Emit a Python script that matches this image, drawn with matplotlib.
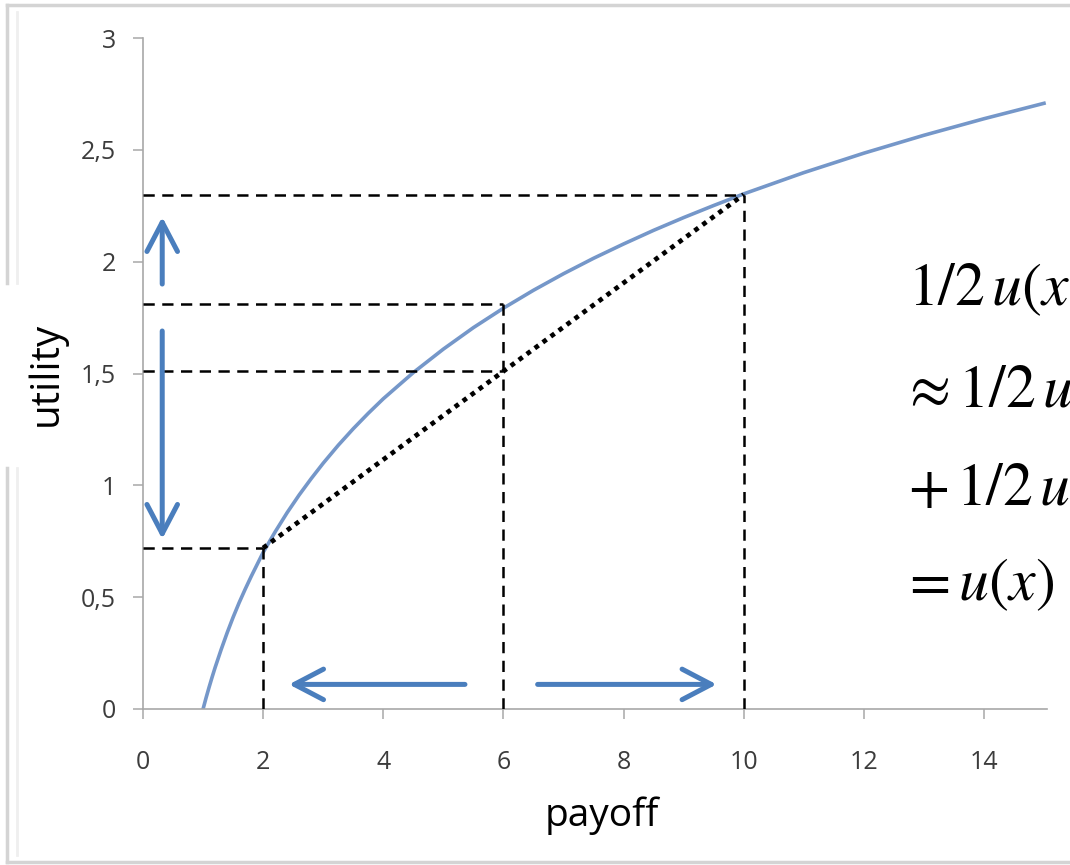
import matplotlib
matplotlib.use("Agg")
import matplotlib.pyplot as plt
from matplotlib.lines import Line2D

# curve
payoff = [1.0, 1.05, 1.1, 1.15, 1.2, 1.3, 1.4, 1.5, 1.6, 1.7, 1.8, 1.9, 2.0,
          2.2, 2.4, 2.6, 2.8, 3.0, 3.25, 3.5, 3.75, 4.0, 4.5, 5.0, 5.5, 6.0,
          6.5, 7.0, 7.5, 8.0, 8.5, 9.0, 9.5, 10.0, 11.0, 12.0, 13.0, 14.0, 15.0]
utility = [0.0, 0.050, 0.097, 0.142, 0.185, 0.265, 0.340, 0.410, 0.475, 0.535, 0.592, 0.646, 0.700,
           0.792, 0.878, 0.957, 1.030, 1.099, 1.179, 1.253, 1.322, 1.387, 1.504, 1.609, 1.705, 1.792,
           1.872, 1.946, 2.015, 2.079, 2.140, 2.197, 2.251, 2.303, 2.398, 2.485, 2.565, 2.639, 2.708]

# lottery points
x_low, x_mid, x_high = 2, 6, 10
u_low, u_mid, u_high = 0.72, 1.81, 2.30
u_avg = 1.51

x_ticks = [0, 2, 4, 6, 8, 10, 12, 14]
y_ticks = [0, 0.5, 1, 1.5, 2, 2.5, 3]
y_tick_labels = ["0", "0,5", "1", "1,5", "2", "2,5", "3"]

# blue arrows: (x0, y0) -> (x1, y1)
arrows = [
    ((0.32, 1.90), (0.32, 2.20)),
    ((0.32, 1.69), (0.32, 0.76)),
    ((5.36, 0.11), (2.43, 0.11)),
    ((6.57, 0.11), (9.55, 0.11)),
]

formula_lines = [r"$1/2\,u(x$", r"$\!\approx 1/2\,u$", r"$+\,1/2\,u$", r"$\!= u(x)$"]
formula_baselines = [305, 407, 505, 600]

W, H = 1070, 865
plt.rcParams["font.family"] = ["Open Sans", "DejaVu Sans"]
plt.rcParams["mathtext.fontset"] = "stix"

fig = plt.figure(figsize=(W / 100, H / 100), dpi=100)


def fx(px):
    return px / W


def fy(py):
    return 1 - py / H


ax = fig.add_axes([fx(143), fy(709), (1047 - 143) / W, (709 - 38) / H])
ax.set_xlim(0, 15.05)
ax.set_ylim(0, 3)

curve_col = "#7597c9"
arrow_col = "#4a7ebd"
axis_col = "#a8a8a8"

ax.plot(payoff, utility, color=curve_col, lw=2.6, solid_joinstyle="round", zorder=2)

dash = dict(color="black", lw=1.8, linestyle=(0, (4.5, 3)), zorder=3)
ax.plot([0, x_high], [u_high, u_high], **dash)
ax.plot([0, x_mid], [u_mid, u_mid], **dash)
ax.plot([0, x_mid], [u_avg, u_avg], **dash)
ax.plot([0, x_low], [u_low, u_low], **dash)
ax.plot([x_low, x_low], [0, u_low], **dash)
ax.plot([x_mid, x_mid], [0, u_mid], **dash)
ax.plot([x_high, x_high], [0, u_high], **dash)

ax.plot([x_low, x_high], [u_low, u_high], color="black", lw=3.4,
        linestyle=(0, (1, 1.1)), zorder=3)

for (x0, y0), (x1, y1) in arrows:
    ax.annotate("", xy=(x1, y1), xytext=(x0, y0),
                arrowprops=dict(arrowstyle="->,head_length=1.05,head_width=0.55",
                                color=arrow_col, lw=3.6, mutation_scale=20,
                                shrinkA=0, shrinkB=0))

for s in ["top", "right"]:
    ax.spines[s].set_visible(False)
for s in ["left", "bottom"]:
    ax.spines[s].set_color(axis_col)
    ax.spines[s].set_linewidth(1.2)

ax.set_xticks(x_ticks)
ax.set_xticklabels([str(t) for t in x_ticks])
ax.set_yticks(y_ticks)
ax.set_yticklabels(y_tick_labels)
ax.tick_params(axis="both", direction="out", length=7.5, width=1.1, color=axis_col,
               labelcolor="#3c3c3c", labelsize=18)
ax.tick_params(axis="x", pad=22)
ax.tick_params(axis="y", pad=12)

fig.text(fx(46), fy(374), "utility", rotation=90, ha="center", va="center",
         fontsize=29, color="black")
fig.text(fx(602), fy(816), "payoff", ha="center", va="center",
         fontsize=28, color="black")

for line, base in zip(formula_lines, formula_baselines):
    fig.text(fx(908), fy(base), line, ha="left", va="baseline", fontsize=43,
             color="black")

# slide frame
frame = dict(color="#d4d4d4", lw=2.5, transform=fig.transFigure)
fig.add_artist(Line2D([fx(7), fx(W)], [fy(5), fy(5)], **frame))
fig.add_artist(Line2D([fx(7), fx(7)], [fy(5), fy(283)], **frame))
fig.add_artist(Line2D([fx(7), fx(7)], [fy(468), fy(862)], **frame))
fig.add_artist(Line2D([fx(7), fx(W)], [fy(862), fy(862)], **frame))
faint = dict(color="#efefef", lw=2, transform=fig.transFigure)
fig.add_artist(Line2D([fx(17), fx(17)], [fy(12), fy(283)], **faint))
fig.add_artist(Line2D([fx(17), fx(17)], [fy(468), fy(855)], **faint))

fig.savefig("out.png", dpi=100)
